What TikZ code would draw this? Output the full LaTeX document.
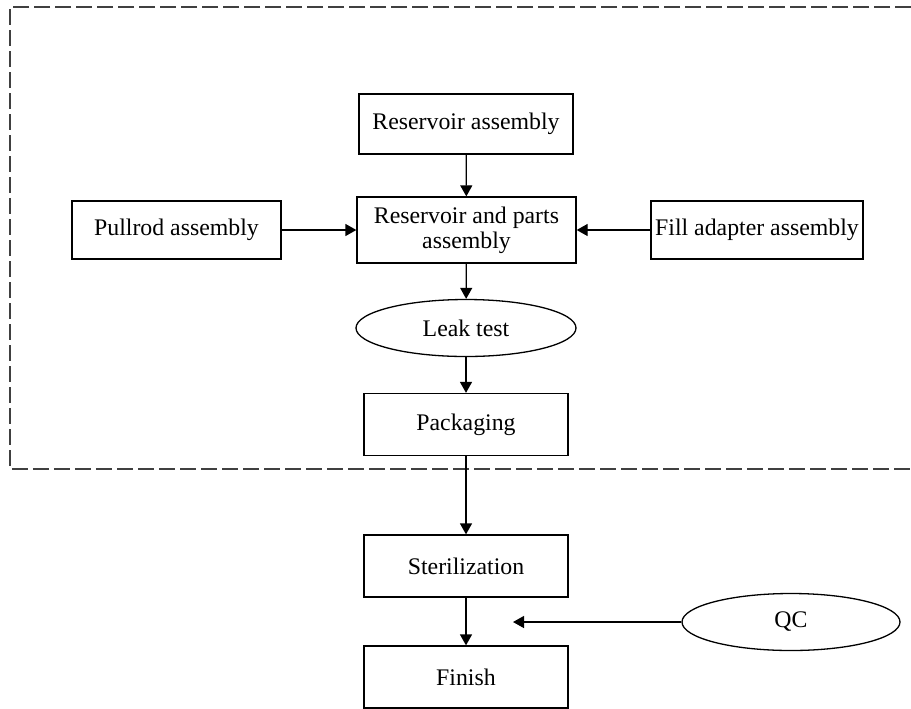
\documentclass[tikz,border=0pt]{standalone}
\usepackage{fontspec}
\setmainfont{Liberation Serif}
\usetikzlibrary{arrows.meta, shapes.geometric}

\begin{document}
\begin{tikzpicture}[x=0.5pt, y=-0.5pt,
  box/.style={draw, line width=0.65pt, inner sep=1pt, align=center,
    font=\fontsize{11.9}{12.5}\selectfont},
  oval/.style={ellipse, draw, line width=0.65pt, inner sep=0pt,
    font=\fontsize{11.9}{13}\selectfont},
  flow/.style={-{Triangle[length=5.5pt, width=6pt]}, line width=0.65pt}]
  \useasboundingbox (0,0) rectangle (911,708);

  % 破線の枠
  \draw[dash pattern=on 8pt off 2.5pt, line width=0.6pt, black!75]
    (911,7) -- (10,7) -- (10,469) -- (911,469);

  % 組立の工程
  \node[box, minimum width=107pt, minimum height=30pt] (resv) at (466,124) {Reservoir assembly};
  \node[box, minimum width=109.5pt, minimum height=33pt] (parts) at (466.5,230) {Reservoir and parts\\assembly};
  \node[box, minimum width=104.5pt, minimum height=29pt] (pull) at (176.5,230) {Pullrod assembly};
  \node[box, minimum width=106pt, minimum height=29pt] (fill) at (757,230) {Fill adapter assembly};
  \node[oval, minimum width=110pt, minimum height=28.5pt] (leak) at (466,328) {Leak test};

  % 後の工程
  \foreach \name/\y/\txt in {pack/424.5/Packaging, steril/566/Sterilization, finish/677/Finish} {
    \node[box, minimum width=102pt, minimum height=31pt] (\name) at (466,\y) {\txt};
  }
  \node[oval, minimum width=109pt, minimum height=28.5pt] (qc) at (791,622) {QC};
  \coordinate (qcend) at (513,622);

  % 矢印
  \draw[flow] (resv) -- (parts);
  \draw[flow] (pull) -- (parts);
  \draw[flow] (fill) -- (parts);
  \draw[flow] (parts) -- (leak);
  \draw[flow] (leak) -- (pack);
  \draw[flow] (pack) -- (steril);
  \draw[flow] (steril) -- (finish);
  \draw[flow] (qc) -- (qcend);
\end{tikzpicture}
\end{document}
